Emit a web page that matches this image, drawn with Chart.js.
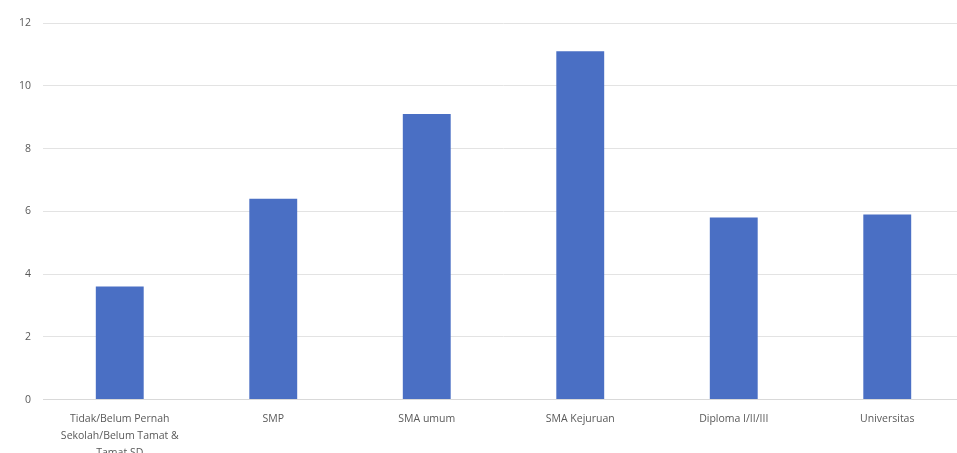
<!DOCTYPE html>
<html>
<head>
<meta charset="utf-8">
<script src="https://cdn.jsdelivr.net/npm/chart.js@4/dist/chart.umd.min.js"></script>
<style>
  html, body { margin: 0; padding: 0; background: #fff; overflow: hidden; }
  #wrap { width: 964px; height: 464px; position: relative; }
</style>
</head>
<body>
<div id="wrap"><canvas id="chart"></canvas></div>
<script>
const categories = [
  ["Tidak/Belum Pernah", "Sekolah/Belum Tamat &", "Tamat SD"],
  "SMP",
  "SMA umum",
  "SMA Kejuruan",
  "Diploma I/II/III",
  "Universitas"
];
const values = [3.6, 6.4, 9.1, 11.1, 5.8, 5.9];
const yTicks = [0, 2, 4, 6, 8, 10, 12];

const ctx = document.getElementById("chart");

new Chart(ctx, {
  type: "bar",
  data: {
    labels: categories,
    datasets: [{
      data: values,
      backgroundColor: "#4a6fc4",
      borderWidth: 0,
      barPercentage: 0.312,
      categoryPercentage: 1
    }]
  },
  options: {
    responsive: true,
    maintainAspectRatio: false,
    animation: false,
    layout: { padding: { top: 23, right: 0, left: 7, bottom: 0 } },
    plugins: {
      legend: { display: false },
      tooltip: { enabled: false }
    },
    scales: {
      x: {
        grid: { display: false },
        border: { color: "#d9d9d9" },
        ticks: {
          color: "#595959",
          font: { family: "Open Sans", size: 10.5, lineHeight: 1.6 },
          maxRotation: 0,
          autoSkip: false,
          padding: 3
        }
      },
      y: {
        min: 0,
        max: 12,
        afterBuildTicks: axis => {
          axis.ticks = yTicks.map(v => ({ value: v }));
        },
        grid: { color: "#e3e3e3", drawTicks: false },
        border: { display: false },
        ticks: {
          color: "#595959",
          font: { family: "Open Sans", size: 10.5 },
          padding: 12
        }
      }
    }
  }
});
</script>
</body>
</html>
